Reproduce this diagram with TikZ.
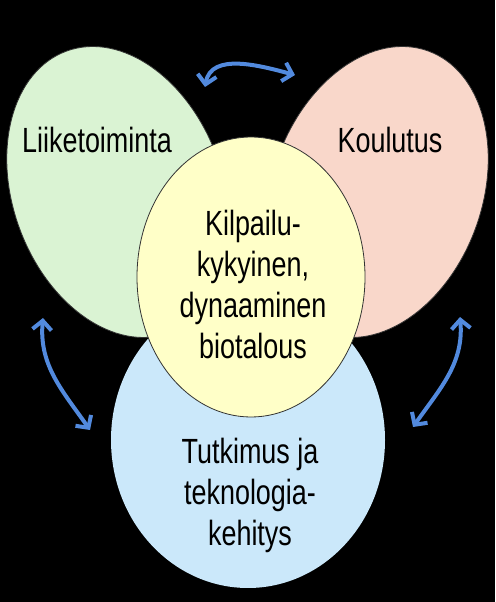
\documentclass[tikz,border=0pt]{standalone}
\usepackage{fontspec}
\setmainfont[FakeStretch=0.77]{Liberation Sans}
\usetikzlibrary{shapes.geometric,arrows.meta}
\definecolor{vihrea}{RGB}{218,243,211}
\definecolor{roosa}{RGB}{249,215,202}
\definecolor{sininen}{RGB}{203,232,250}
\definecolor{keltainen}{RGB}{255,255,200}
\definecolor{nuolisin}{RGB}{82,138,222}

\begin{document}
\begin{tikzpicture}[x=1pt,y=1pt,
    soikio/.style={ellipse,draw=black!80,line width=0.8pt,inner sep=0pt},
    teksti/.style={align=center,inner sep=0pt,font=\fontsize{35}{41}\selectfont},
    nuoli/.style={line width=4pt,draw=nuolisin,>={Straight Barb[length=9pt,width=19pt]},<->}]
    % Tausta
    \fill[black] (0,0) rectangle (495,602);
    \useasboundingbox (0,0) rectangle (495,602);

    % Soikiot: sininen alimpana, keltainen päällimmäisenä
    \node[soikio,draw=none,fill=sininen,minimum width=274,minimum height=296] (Tutk) at (248,162) {};
    \node[soikio,fill=vihrea,minimum width=210,minimum height=300,rotate=20] (Liike) at (118,410) {};
    \node[soikio,fill=roosa,minimum width=210,minimum height=300,rotate=-20] (Koulu) at (377,410) {};
    \node[soikio,fill=keltainen,minimum width=228,minimum height=280] (Keski) at (251,325) {};

    % Tekstit
    \node[teksti] (tLiike) at (97,462) {Liiketoiminta};
    \node[teksti] (tKoulu) at (390,462) {Koulutus};
    \node[teksti] (tKeski) at (253,318) {Kilpailu-\\kykyinen,\\dynaaminen\\biotalous};
    \node[teksti] (tTutk) at (250,107) {Tutkimus ja\\teknologia-\\kehitys};

    % Nuolten päät
    \coordinate (y1) at (205,515);
    \coordinate (y2) at (295,527);
    \coordinate (v1) at (43,284);
    \coordinate (v2) at (90,172);
    \coordinate (o1) at (460,285);
    \coordinate (o2) at (413,175);

    % Nuolet
    \draw[nuoli] (y1) to[out=80,in=165] (y2);
    \draw[nuoli] (v1) to[out=-95,in=125] (v2);
    \draw[nuoli] (o1) to[out=-85,in=55] (o2);
\end{tikzpicture}
\end{document}
